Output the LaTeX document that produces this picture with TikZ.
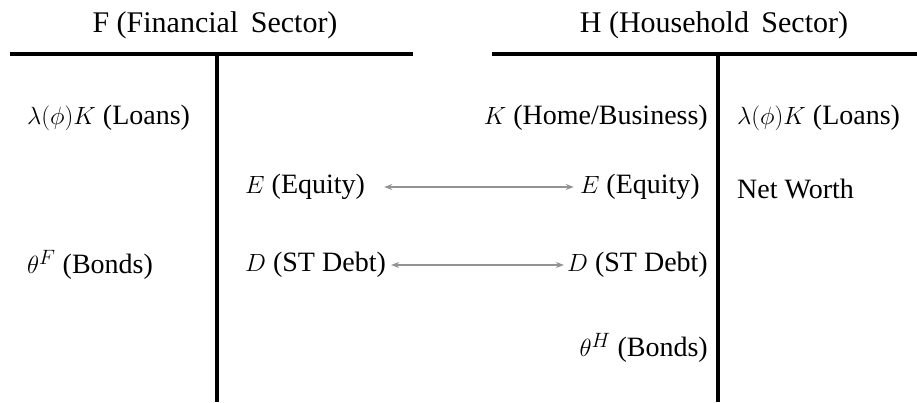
\documentclass[tikz,border=0pt]{standalone}
\usepackage{fontspec}
\setmainfont{Liberation Serif}
\usetikzlibrary{arrows.meta}
\begin{document}
\begin{tikzpicture}[x=1pt,y=-1pt,
  tline/.style={line width=3.5pt},
  title/.style={font=\fontsize{30}{36}\selectfont, inner sep=0pt},
  lbl/.style={font=\fontsize{28}{33}\selectfont, inner sep=0pt},
  flow/.style={draw=gray!85, line width=1.5pt, {Stealth[length=8pt,width=6pt]}-{Stealth[length=8pt,width=6pt]}}]
\useasboundingbox (0,0) rectangle (917,402);
% T accounts
\draw[tline] (10,54) -- (413,54);
\draw[tline] (217,54) -- (217,402);
\draw[tline] (492,54) -- (917,54);
\draw[tline] (718,54) -- (718,402);
% titles
\node[title] (tF) at (215,25) {F (Financial\, Sector)};
\node[title] (tH) at (714,25) {H (Household\, Sector)};
% F sector
\node[lbl, anchor=west] (fl) at (27,118) {$\lambda(\phi)K$ (Loans)};
\node[lbl, anchor=west] (fe) at (245,187) {$E$ (Equity)};
\node[lbl, anchor=west] (fb) at (27,265) {$\theta^F$ (Bonds)};
\node[lbl, anchor=west] (fd) at (245,265) {$D$ (ST Debt)};
% H sector
\node[lbl, anchor=east] (hk) at (708,118) {$K$ (Home/Business)};
\node[lbl, anchor=west] (hl) at (737,118) {$\lambda(\phi)K$ (Loans)};
\node[lbl, anchor=east] (he) at (700,187) {$E$ (Equity)};
\node[lbl, anchor=west] (hn) at (737,189) {Net Worth};
\node[lbl, anchor=east] (hd) at (708,265) {$D$ (ST Debt)};
\node[lbl, anchor=east] (hb) at (708,348) {$\theta^H$ (Bonds)};
% flows
\draw[flow] ([xshift=19pt]fe.east) -- ([xshift=-6pt]he.west);
\draw[flow] ([xshift=5pt]fd.east) -- ([xshift=-3pt]hd.west);
\end{tikzpicture}
\end{document}
